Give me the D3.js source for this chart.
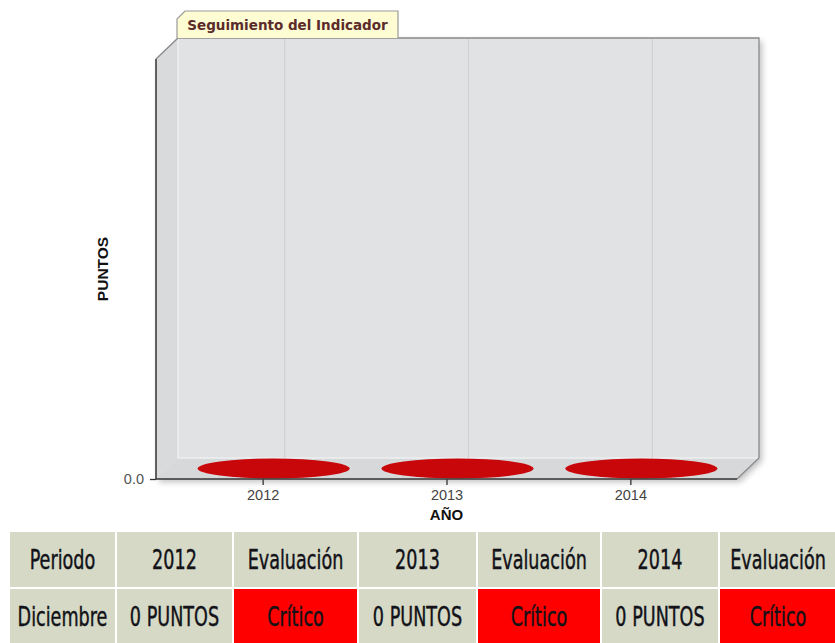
<!DOCTYPE html>
<html><head><meta charset="utf-8">
<script src="https://cdn.jsdelivr.net/npm/d3@7"></script>
<style>
html,body{margin:0;padding:0;background:#fff;}
svg{display:block;}
</style></head>
<body>
<svg id="c" width="835" height="643"></svg>
<script>
const years = ["2012","2013","2014"];
const values = [0, 0, 0];
const yTicks = [0];
const chartTitle = "Seguimiento del Indicador";
const xTitle = "AÑO";
const yTitle = "PUNTOS";
const tableHeader = ["Periodo","2012","Evaluación","2013","Evaluación","2014","Evaluación"];
const tableRow = ["Diciembre","0 PUNTOS","Crítico","0 PUNTOS","Crítico","0 PUNTOS","Crítico"];
const rowStatus = ["", "", "bad", "", "bad", "", "bad"];

(function(){
const svg = d3.select("#c");
const pL = 156, pR = 737, pT = 59, pB = 479;
const dx = 22, dy = 21;
const sans = "Arial, 'Liberation Sans', sans-serif";

const x = d3.scalePoint().domain(years).range([pL, pR]).padding(0.58);
const y = d3.scaleLinear().domain([0, 1]).range([pB, pT]);

const defs = svg.append("defs");
const f = defs.append("filter").attr("id","sh").attr("x","-10%").attr("y","-10%").attr("width","130%").attr("height","130%");
f.append("feGaussianBlur").attr("in","SourceAlpha").attr("stdDeviation",3);
f.append("feOffset").attr("dx",3).attr("dy",3).attr("result","b");
f.append("feComponentTransfer").append("feFuncA").attr("type","linear").attr("slope",0.25);
const m = f.append("feMerge"); m.append("feMergeNode"); m.append("feMergeNode").attr("in","SourceGraphic");

const g = svg.append("g");
const box = g.append("g").attr("filter","url(#sh)");
box.append("path")
  .attr("d", `M${pL+dx},${pT-dy}H${pR+dx}V${pB-dy}L${pR},${pB}H${pL}V${pT}Z`)
  .attr("fill","#e1e2e4");
g.append("rect").attr("x",pL+dx).attr("y",pT-dy).attr("width",pR-pL).attr("height",pB-pT)
  .attr("fill","#e1e2e4");
g.append("path")
  .attr("d", `M${pL},${pT}L${pL+dx},${pT-dy}V${pB-dy}L${pL},${pB}Z`)
  .attr("fill","#d9dadc");
g.append("path")
  .attr("d", `M${pL},${pB}L${pL+dx},${pB-dy}H${pR+dx}L${pR},${pB}Z`)
  .attr("fill","#d7d8da");
g.append("line").attr("x1",pL+dx).attr("x2",pR+dx).attr("y1",pB-dy).attr("y2",pB-dy)
  .attr("stroke","#eeeff0").attr("stroke-width",1.5);
g.append("line").attr("x1",pL+dx).attr("x2",pL+dx).attr("y1",pT-dy).attr("y2",pB-dy)
  .attr("stroke","#eeeff0").attr("stroke-width",1.5);
g.selectAll(".grid").data(years).enter().append("line")
  .attr("x1", d => x(d)+dx).attr("x2", d => x(d)+dx)
  .attr("y1", pT-dy).attr("y2", pB-dy)
  .attr("stroke","#d0d1d3").attr("stroke-width",1.2);
g.append("path")
  .attr("d", `M${pL},${pT}L${pL+dx},${pT-dy}H${pR+dx}V${pB-dy}L${pR},${pB}`)
  .attr("fill","none").attr("stroke","#8a8a8a").attr("stroke-width",1.3);

g.selectAll(".disc").data(years).enter().append("ellipse")
  .attr("cx", d => x(d) + dx/2)
  .attr("cy", (d,i) => y(values[i]) - dy/2)
  .attr("rx", 76).attr("ry", 10)
  .attr("fill","#c8070b");

const yAxis = d3.axisLeft(y).tickValues(yTicks).tickFormat(d3.format(".1f")).tickSize(6).tickSizeOuter(0);
const ya = svg.append("g").attr("transform",`translate(${pL},0)`).call(yAxis);
ya.select(".domain").remove();
ya.selectAll("text").attr("font-family",sans).attr("font-size",14.5).attr("fill","#555").attr("x",-12);
ya.selectAll("line").attr("stroke","#333").attr("stroke-width",1.3);
svg.append("line").attr("x1",pL).attr("x2",pL).attr("y1",pT).attr("y2",pB).attr("stroke","#333").attr("stroke-width",1.5);

const xAxis = d3.axisBottom(x).tickSize(6).tickSizeOuter(0);
const xa = svg.append("g").attr("transform",`translate(0,${pB})`).call(xAxis);
xa.select(".domain").attr("d",`M${pL},0H${pR}`).attr("stroke","#333").attr("stroke-width",1.5);
xa.selectAll("line").attr("stroke","#333").attr("stroke-width",1.3);
xa.selectAll("text").attr("font-family",sans).attr("font-size",14.5).attr("fill","#444").attr("y",11).attr("dy","0.71em");

svg.append("text").attr("x", x("2013")).attr("y", 520).attr("text-anchor","middle")
  .attr("font-family",sans).attr("font-weight","bold").attr("font-size",15).attr("fill","#111")
  .text(xTitle);
svg.append("text").attr("transform","translate(108,269) rotate(-90)").attr("text-anchor","middle")
  .attr("font-family",sans).attr("font-weight","bold").attr("font-size",15.5).attr("fill","#111")
  .text(yTitle);

const tx0 = 177, tx1 = 398, ty0 = 11, ty1 = 38;
svg.append("path").attr("d",`M${tx0},${ty1}V${ty0+8}L${tx0+8},${ty0}H${tx1}V${ty1}`)
  .attr("fill","#fdfcd2").attr("stroke","#9a9a9a").attr("stroke-width",1.2);
svg.append("text").attr("x",(tx0+tx1)/2).attr("y",29.5).attr("text-anchor","middle")
  .attr("font-family","Verdana, 'DejaVu Sans', sans-serif").attr("font-weight","bold").attr("font-size",13.5)
  .attr("fill","#5b2b2b").text(chartTitle);

const colEdges = [10,116,233,358,477,601,719,837];
const rowEdges = [532,588,643];
const tbl = svg.append("g");
[tableHeader, tableRow].forEach((row, r) => {
  row.forEach((txt, c) => {
    const x0 = colEdges[c] + (c>0?1:0), x1 = colEdges[c+1] - 1;
    const y0 = rowEdges[r] + (r>0?1:0), y1 = rowEdges[r+1] - (r==0?1:0);
    const bad = r===1 && rowStatus[c]==="bad";
    tbl.append("rect").attr("x",x0).attr("y",y0).attr("width",x1-x0).attr("height",y1-y0)
      .attr("fill", bad ? "#ff0000" : "#d5d9c6");
    const cx = (x0+x1)/2, cy = (y0+y1)/2;
    tbl.append("text").attr("x",cx).attr("y",cy + 8)
      .attr("text-anchor","middle")
      .attr("transform",`translate(${cx},${cy}) scale(0.89,1.22) translate(${-cx},${-cy})`)
      .attr("font-family","'DejaVu Sans Condensed','Liberation Sans Narrow',sans-serif")
      .attr("font-size",22).attr("fill","#121218")
      .attr("stroke","#121218").attr("stroke-width",0.35)
      .text(txt);
  });
});
})();
</script>
</body></html>
